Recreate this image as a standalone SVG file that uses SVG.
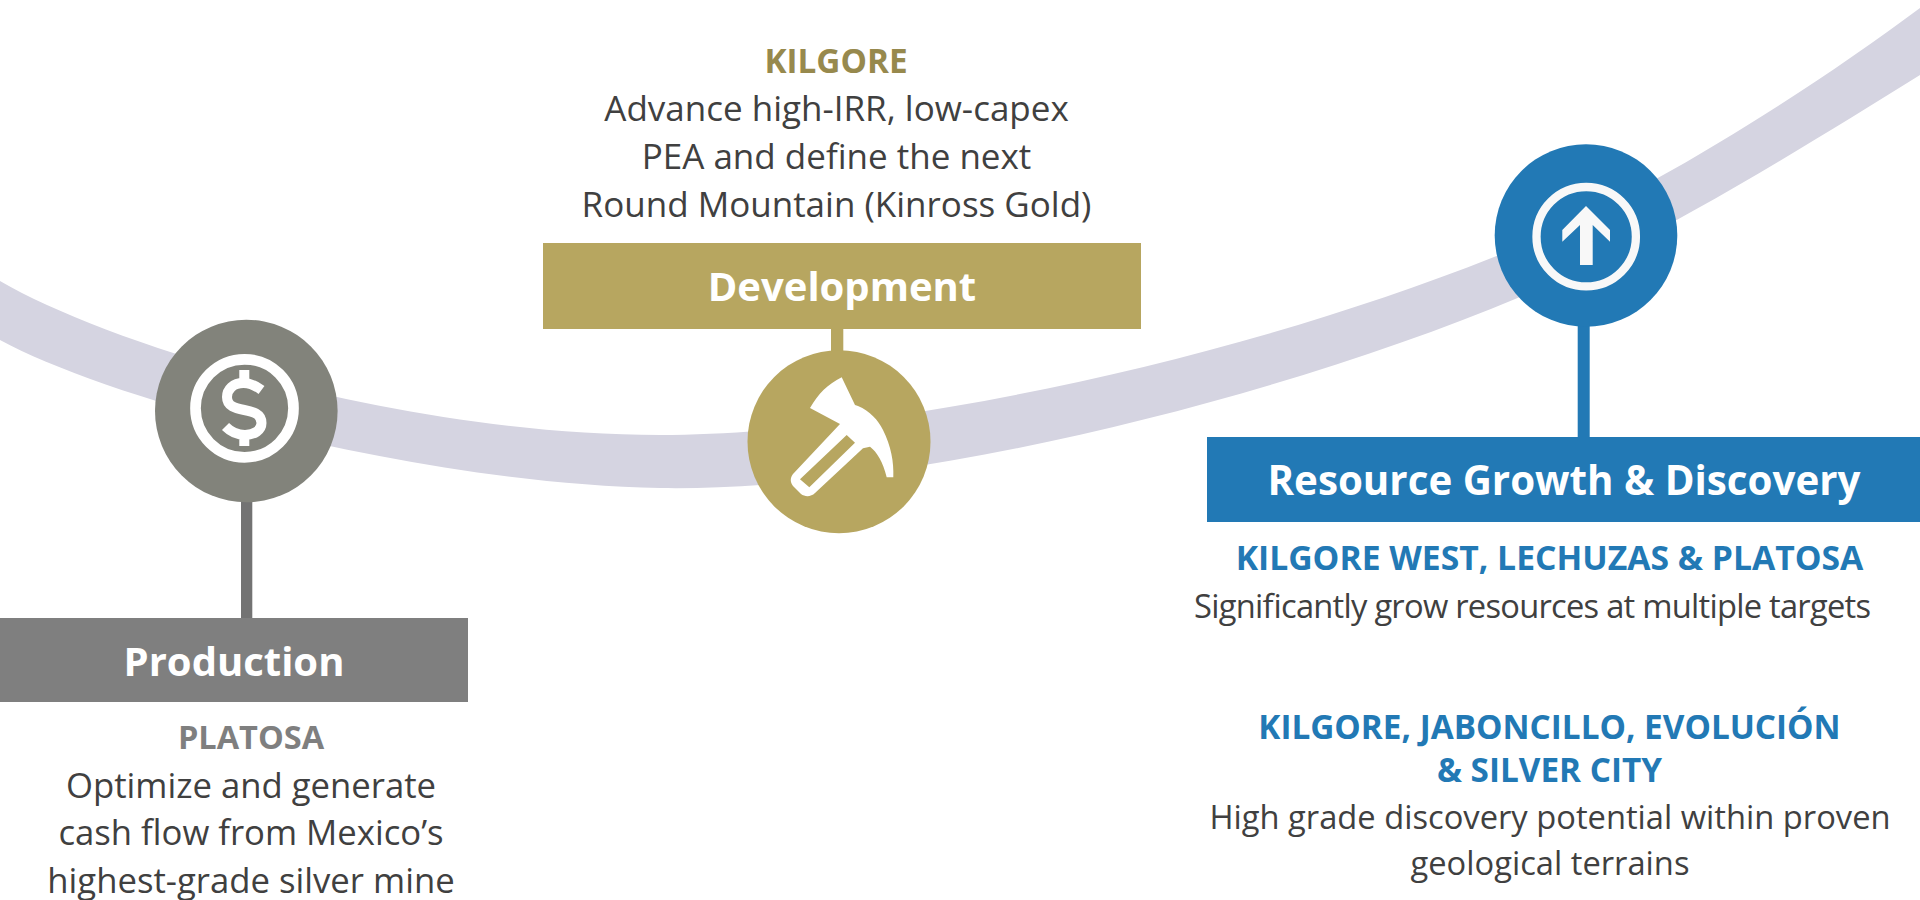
<svg xmlns="http://www.w3.org/2000/svg" width="1920" height="900" viewBox="0 0 1920 900">
<style>
text{font-family:"Open Sans","Noto Sans","Liberation Sans",sans-serif;text-anchor:middle}
.t{font-size:34.700px;fill:#404040}
.d{font-size:35px;fill:#404040}
.g{font-size:32.700px;fill:#404040}
.h{font-size:33.300px;font-weight:700}
.b{font-size:40px;font-weight:700;fill:#fff}
.w{fill:#fff}
</style>
<rect width="1920" height="900" fill="#fff"/>
<path id="band" d="M0 281C110 345 400 435 660 435C880 435 1225 364 1494 257C1640 199 1800 97 1920 8V75C1800 150 1640 248 1520 297C1270 402 900 492 660 488C420 484 110 400 0 340Z" fill="#d5d4e1"/>
<g id="connectors">
<rect x="241" y="495" width="11.300" height="125" fill="#737373"/>
<rect x="831" y="325" width="12.300" height="30" fill="#b7a660"/>
<rect x="1577.700" y="325" width="12" height="115" fill="#2279b5"/>
</g>
<g id="production">
<circle cx="246.300" cy="411" r="91.300" fill="#82837b"/>
<circle cx="244.500" cy="408.300" r="49" fill="none" stroke="#fff" stroke-width="10.700"/>
<path d="M261.500 390C254 384.500 249 383 243.500 383C233 383 227 389.500 227 397C227 416 261.500 404 261.500 423C261.500 430 254.500 435 245 435C237 435 231 432 225.500 426.500M244.300 370V383M244.300 435V446" fill="none" stroke="#fff" stroke-width="10"/>
<rect x="0" y="618" width="468" height="84" fill="#7f7f7f"/>
<text x="234" y="676" class="b">Production</text>
<text x="251" y="749" class="h" fill="#7f7f7f" style="font-size:32.500px">PLATOSA</text>
<text x="251" y="798" class="t">Optimize and generate</text>
<text x="251" y="845" class="t">cash flow from Mexico’s</text>
<text x="251" y="893" class="t">highest-grade silver mine</text>
</g>
<g id="development">
<circle cx="839" cy="441.700" r="91.500" fill="#b7a660"/>
<path d="M841.700 377.300L855 405L858 406C870 411 878 420 883 430C891 446 894 462 893.300 477.300L886.700 477.300C883 462 877 452 870 446.700L863 448.300L815 493C811 497 805 497 801 494L793 486C790 482 790 478 793 474L840 424L810 408C818 394 828 384 841.700 377.300ZM846.700 435L800 479.300L809.300 487.300L855 442.700Z" class="w" fill-rule="evenodd"/>
<rect x="543" y="243" width="598" height="86" fill="#b7a660"/>
<text x="842" y="301" class="b">Development</text>
<text x="836" y="73" class="h" fill="#97894d">KILGORE</text>
<text x="836.500" y="121" class="d">Advance high-IRR, low-capex</text>
<text x="836.500" y="169" class="d">PEA and define the next</text>
<text x="836.500" y="217" class="d">Round Mountain (Kinross Gold)</text>
</g>
<g id="growth">
<circle cx="1586" cy="235.500" r="91.300" fill="#2279b5"/>
<circle cx="1586.200" cy="236.700" r="49.700" fill="none" stroke="#f8f8f8" stroke-width="8.300"/>
<path d="M1586 206L1610 230V241.700L1592.700 225V265H1580V225L1562.300 241.700V230Z" fill="#f8f8f8"/>
<rect x="1207" y="437" width="713" height="85" fill="#2279b5"/>
<text x="1564" y="495" class="b" style="font-size:40.300px">Resource Growth &amp; Discovery</text>
<text x="1549.500" y="570" class="h" fill="#2279b5" style="font-size:33.700px">KILGORE WEST, LECHUZAS &amp; PLATOSA</text>
<text x="1532.500" y="618" class="g" textLength="677" lengthAdjust="spacing">Significantly grow resources at multiple targets</text>
<text x="1549.500" y="739" class="h" fill="#2279b5">KILGORE, JABONCILLO, EVOLUCIÓN</text>
<text x="1549.500" y="782" class="h" fill="#2279b5">&amp; SILVER CITY</text>
<text x="1550" y="829" class="g">High grade discovery potential within proven</text>
<text x="1550" y="875" class="g">geological terrains</text>
</g>
</svg>
